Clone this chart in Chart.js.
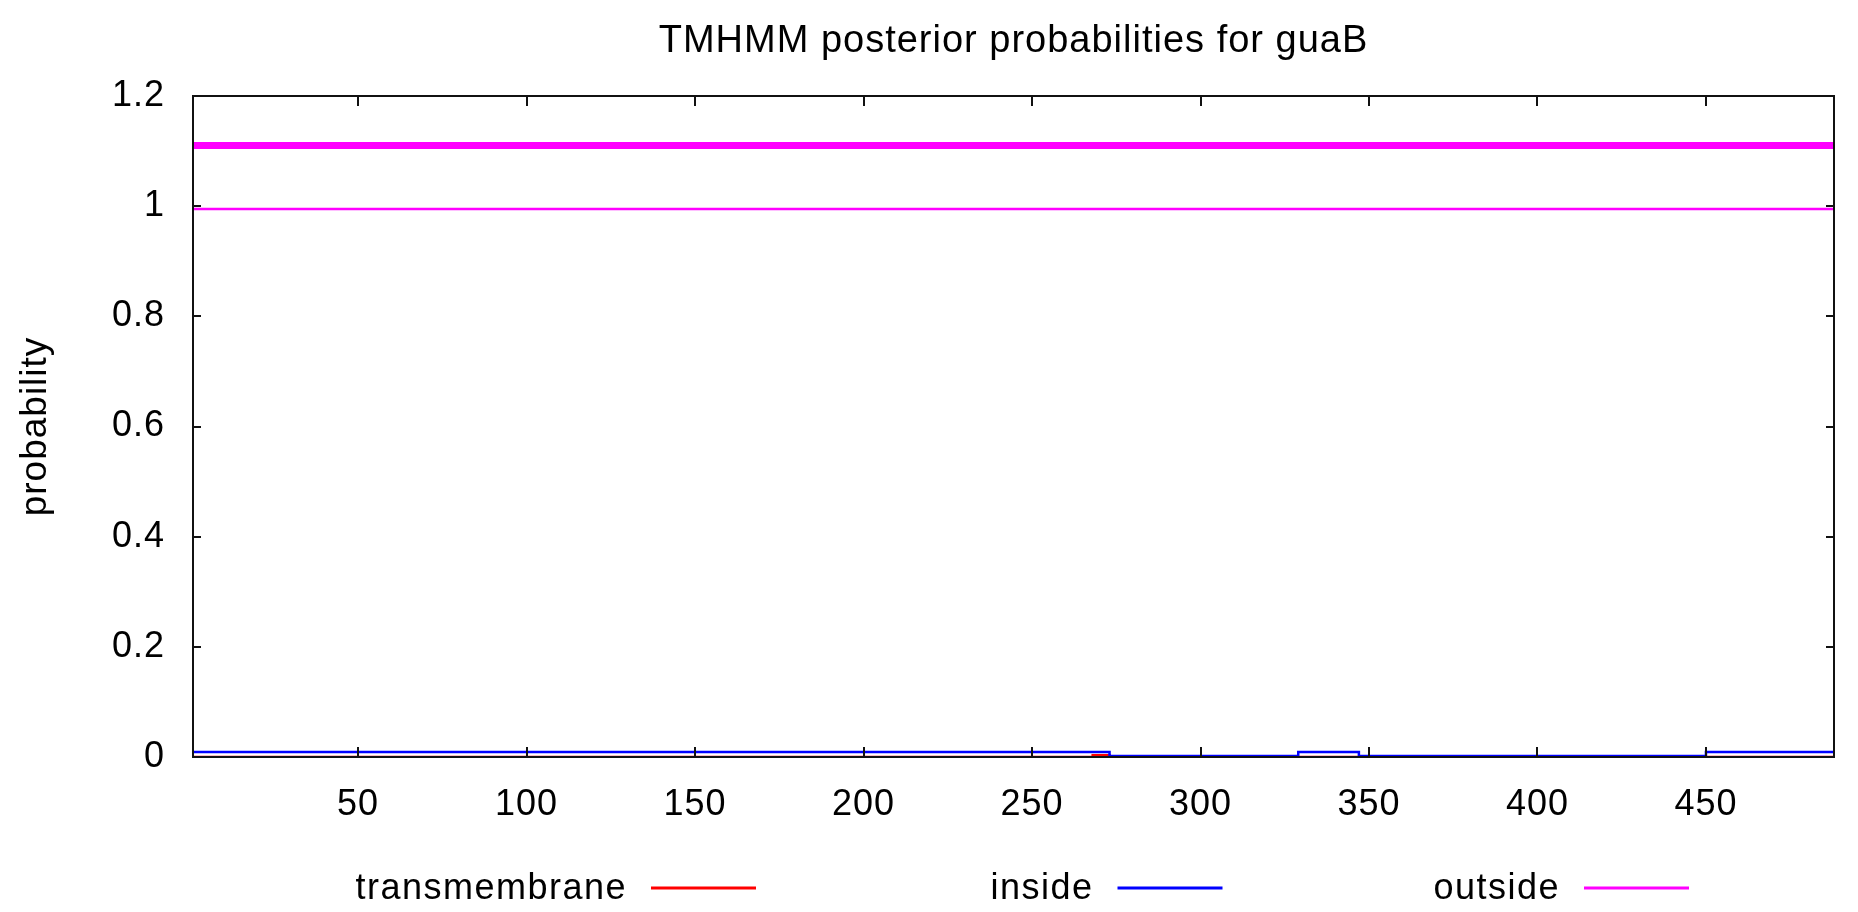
<!DOCTYPE html>
<html lang="en">
<head>
<meta charset="UTF-8">
<title>TMHMM posterior probabilities for guaB</title>
<script src="https://cdn.jsdelivr.net/npm/chart.js"></script>
<style>
    html, body { margin: 0; padding: 0; background: #fff; }
    #wrap { width: 1858px; height: 912px; }
</style>
</head>
<body>
<div id="wrap"><canvas id="tmhmm"></canvas></div>
<script>
    // residue positions where each curve changes value (stepped), protein length 488
    const seqStart = 1;
    const seqEnd = 488;
    const tmPos = [1, 268, 273, 488];
    const tmProb = [0, 0.003, 0, 0];
    const insidePos = [1, 273, 329, 347, 450, 488];
    const insideProb = [0.009, 0.002, 0.009, 0.002, 0.009, 0.009];
    const outsidePos = [1, 488];
    const outsideProb = [0.995, 0.995];
    // predicted topology bar (outside over the whole sequence)
    const topoPos = [1, 488];
    const topoLevel = [1.11, 1.11];
    const xTicks = [50, 100, 150, 200, 250, 300, 350, 400, 450];
    const yTicks = [0, 0.2, 0.4, 0.6, 0.8, 1, 1.2];

    function pts(xs, ys) {
        return xs.map((v, i) => ({ x: v, y: ys[i] }));
    }

    const font = 'Liberation Sans, Arial, sans-serif';

    // gnuplot style frame, inward ticks and key below the plot
    const framePlugin = {
        id: 'frame',
        beforeDraw(chart) {
            // gnuplot's font is a bit more spread out
            chart.ctx.letterSpacing = '1px';
        },
        afterDatasetsDraw(chart) {
            const { ctx, chartArea: a, scales } = chart;
            const x = scales.x, y = scales.y;
            ctx.save();
            ctx.strokeStyle = '#111';
            ctx.lineWidth = 2;
            ctx.strokeRect(a.left, a.top, a.right - a.left, a.bottom - a.top);
            ctx.beginPath();
            x.ticks.forEach(t => {
                const px = Math.round(x.getPixelForValue(t.value));
                ctx.moveTo(px, a.bottom); ctx.lineTo(px, a.bottom - 10);
                ctx.moveTo(px, a.top); ctx.lineTo(px, a.top + 10);
            });
            y.ticks.forEach(t => {
                const py = Math.round(y.getPixelForValue(t.value));
                ctx.moveTo(a.left, py); ctx.lineTo(a.left + 8, py);
                ctx.moveTo(a.right, py); ctx.lineTo(a.right - 8, py);
            });
            ctx.stroke();
            ctx.restore();
        },
        afterDraw(chart) {
            const ctx = chart.ctx;
            const keyed = chart.data.datasets.filter(d => !d.hideKey);
            ctx.save();
            ctx.font = '36px ' + font;
            ctx.letterSpacing = '1.5px';
            ctx.textAlign = 'right';
            ctx.textBaseline = 'middle';
            keyed.forEach((d, i) => {
                const lineEnd = 756 + i * 466.5;
                const lineStart = lineEnd - 105;
                ctx.fillStyle = '#000';
                ctx.fillText(d.label, lineStart - 24, 889);
                ctx.strokeStyle = d.borderColor;
                ctx.lineWidth = 3;
                ctx.beginPath();
                ctx.moveTo(lineStart, 888);
                ctx.lineTo(lineEnd, 888);
                ctx.stroke();
            });
            ctx.restore();
        }
    };

    const ctx = document.getElementById('tmhmm').getContext('2d');
    new Chart(ctx, {
        type: 'line',
        data: {
            datasets: [{
                label: 'transmembrane',
                data: pts(tmPos, tmProb),
                borderColor: '#ff0000',
                borderWidth: 2.5,
                stepped: true,
                order: 3
            }, {
                label: 'inside',
                data: pts(insidePos, insideProb),
                borderColor: '#0000ff',
                borderWidth: 2.5,
                stepped: true,
                order: 2
            }, {
                label: 'outside',
                data: pts(outsidePos, outsideProb),
                borderColor: '#ff00ff',
                borderWidth: 2.5,
                stepped: true,
                order: 1
            }, {
                label: 'topology',
                hideKey: true,
                data: pts(topoPos, topoLevel),
                borderColor: '#ff00ff',
                borderWidth: 7,
                borderCapStyle: 'butt',
                order: 0
            }]
        },
        options: {
            responsive: true,
            maintainAspectRatio: false,
            animation: false,
            events: [],
            elements: { point: { radius: 0 }, line: { tension: 0 } },
            layout: { padding: { left: 0, right: 24, top: 0, bottom: 0 } },
            plugins: {
                legend: { display: false },
                tooltip: { enabled: false },
                title: {
                    display: true,
                    text: 'TMHMM posterior probabilities for guaB',
                    fullSize: false,
                    color: '#000',
                    font: { family: font, size: 38, weight: 'normal', lineHeight: 1.2 },
                    padding: { top: 19, bottom: 31.4 }
                }
            },
            scales: {
                x: {
                    type: 'linear',
                    min: seqStart,
                    max: seqEnd,
                    grid: { display: false },
                    border: { display: false },
                    afterBuildTicks: s => { s.ticks = xTicks.map(v => ({ value: v })); },
                    afterFit: s => { s.height = 155; },
                    ticks: {
                        color: '#000',
                        padding: 18,
                        maxRotation: 0,
                        font: { family: font, size: 36 }
                    }
                },
                y: {
                    min: 0,
                    max: 1.2,
                    grid: { display: false },
                    border: { display: false },
                    afterBuildTicks: s => { s.ticks = yTicks.map(v => ({ value: v })); },
                    afterFit: s => { s.width = 193; },
                    title: {
                        display: true,
                        text: 'probability',
                        color: '#000',
                        font: { family: font, size: 37, lineHeight: 1.2 },
                        padding: { top: 14, bottom: 0 }
                    },
                    ticks: {
                        color: '#000',
                        padding: 20,
                        font: { family: font, size: 36 },
                        callback: v => String(v)
                    }
                }
            }
        },
        plugins: [framePlugin]
    });
</script>
</body>
</html>
